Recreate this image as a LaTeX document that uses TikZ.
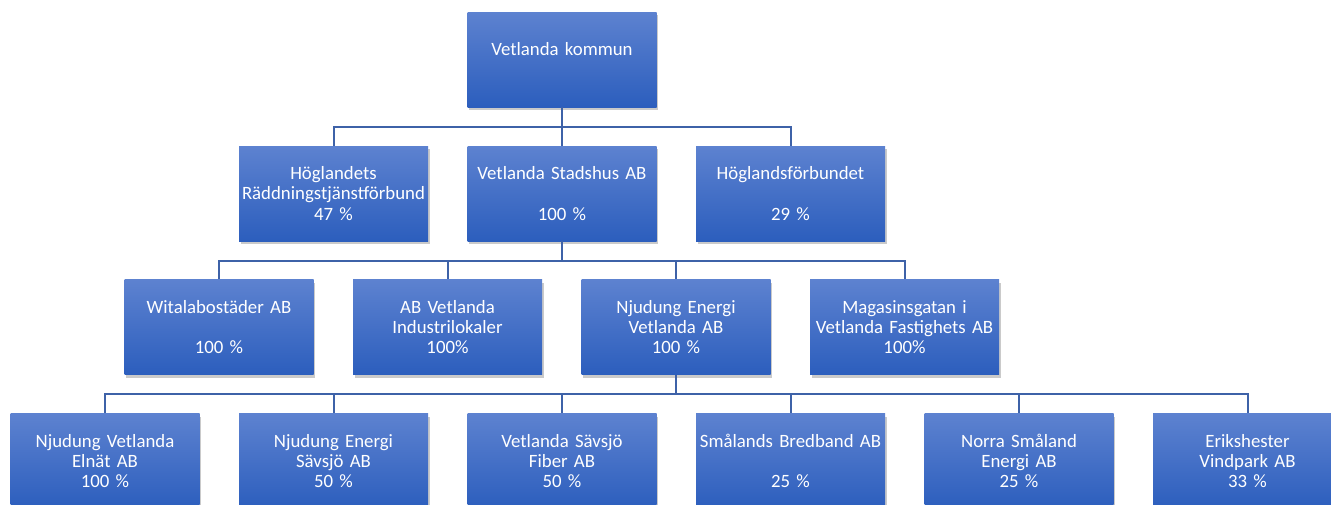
\documentclass[tikz,border=0pt]{standalone}
\usepackage{fontspec}
\setmainfont{Carlito}
\usetikzlibrary{shadows}
\definecolor{boxtop}{RGB}{93,130,208}
\definecolor{boxbot}{RGB}{44,94,189}
\definecolor{linkblue}{RGB}{62,98,168}

\begin{document}
\begin{tikzpicture}[x=1pt,y=-1pt,
    unit/.style={rectangle, top color=boxtop, bottom color=boxbot, text=white,
        minimum width=189pt, minimum height=95pt, text width=187pt, inner sep=1pt,
        align=center, font=\fontsize{18.8}{20.3}\selectfont,
        drop shadow={shadow xshift=1.5pt, shadow yshift=-3pt, opacity=0.35, fill=black!60}},
    link/.style={draw=linkblue, line width=2pt}]
    \useasboundingbox (0,0) rectangle (1331,504);

    % owner
    \node[unit] (k) at (562,59.5) {Vetlanda kommun\\~};

    % first row
    \node[unit] (a_1) at (333.5,193.5) {Höglandets\\Räddningstjänstförbund\\47 \%};
    \node[unit] (a_2) at (562,193.5) {Vetlanda Stadshus AB\\~\\100 \%};
    \node[unit] (a_3) at (790.5,193.5) {Höglandsförbundet\\~\\29 \%};

    % second row
    \node[unit] (b_1) at (219,327) {Witalabostäder AB\\~\\100 \%};
    \node[unit] (b_2) at (447.5,327) {AB Vetlanda\\Industrilokaler\\100\%};
    \node[unit] (b_3) at (676,327) {Njudung Energi\\Vetlanda AB\\100 \%};
    \node[unit] (b_4) at (904.5,327) {Magasinsgatan i\\Vetlanda Fastighets AB\\100\%};

    % third row
    \node[unit] (c_1) at (105,461) {Njudung Vetlanda\\Elnät AB\\100 \%};
    \node[unit] (c_2) at (333.5,461) {Njudung Energi\\Sävsjö AB\\50 \%};
    \node[unit] (c_3) at (562,461) {Vetlanda Sävsjö\\Fiber AB\\50 \%};
    \node[unit] (c_4) at (790.5,461) {Smålands Bredband AB\\~\\25 \%};
    \node[unit] (c_5) at (1019,461) {Norra Småland\\Energi AB\\25 \%};
    \node[unit] (c_6) at (1247.5,461) {Erikshester\\Vindpark AB\\33 \%};

    \foreach \x in {1,...,3}
        \draw[link] (k.south) -- ++(0,19.75) -| (a_\x.north);
    \foreach \x in {1,...,4}
        \draw[link] (a_2.south) -- ++(0,19.75) -| (b_\x.north);
    \foreach \x in {1,...,6}
        \draw[link] (b_3.south) -- ++(0,19.75) -| (c_\x.north);
\end{tikzpicture}
\end{document}
